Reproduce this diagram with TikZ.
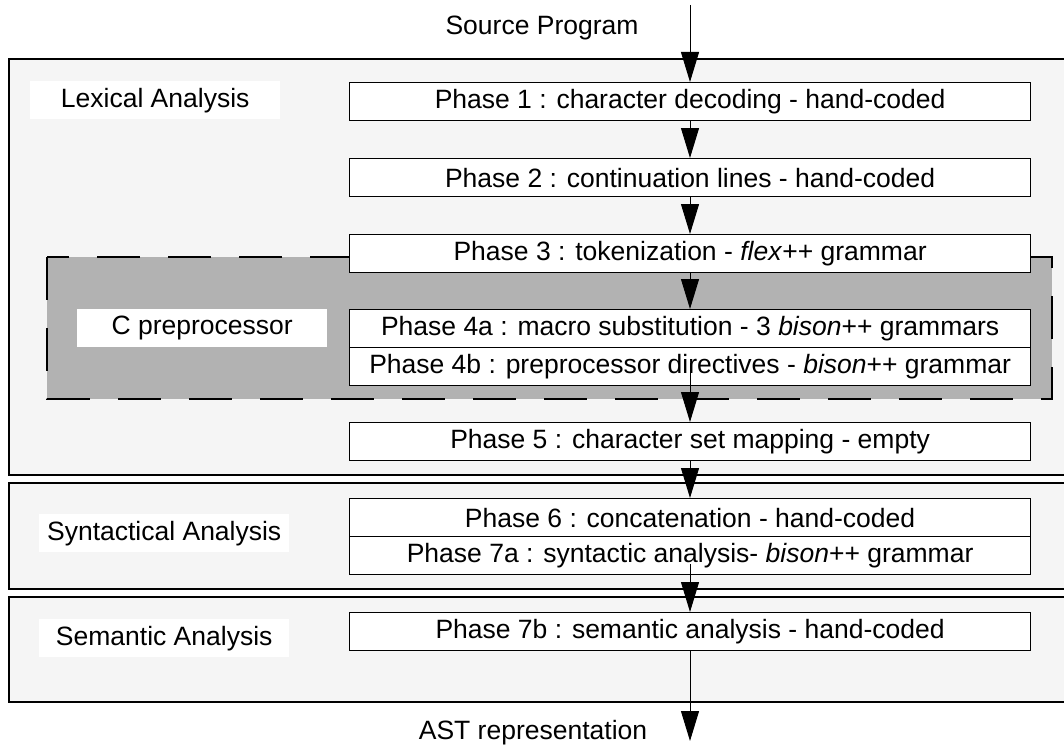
\documentclass[tikz,border=0pt]{standalone}
\usepackage{fontspec}
\setmainfont{Liberation Sans}
\usetikzlibrary{arrows.meta}
\begin{document}
\begin{tikzpicture}[x=1pt,y=-1pt,
  every node/.style={font=\fontsize{26.5}{30}\selectfont, inner sep=0pt},
  stage/.style={draw=black, line width=1.3pt, fill=black!4},
  phasebox/.style={draw=black, line width=1.2pt, fill=white, minimum width=681pt, minimum height=38pt, anchor=north west},
  labelbox/.style={fill=white, minimum width=250pt, minimum height=38pt, anchor=north west},
  arr/.style={line width=1pt, -{Triangle[length=30pt,width=18pt]}},
  cpp/.style={fill=black!30, draw=black, line width=1.3pt, dash pattern=on 43pt off 28pt}
]
\useasboundingbox (0,0) rectangle (1064,749);
% stage frames
\draw[stage] (1075,59) -- (9,59) -- (9,475) -- (1075,475);
\draw[stage] (1075,483) -- (9,483) -- (9,589) -- (1075,589);
\draw[stage] (1075,597) -- (9,597) -- (9,702) -- (1075,702);
% C preprocessor region
\draw[cpp] (47,257) rectangle (1052,399);
% stage labels
\node[labelbox] (lex) at (30,81) {Lexical Analysis};
\node[labelbox] (cpre) at (77,309) {C preprocessor};
\node[labelbox] (syn) at (39,514) {Syntactical Analysis};
\node[labelbox] (sem) at (39,619) {Semantic Analysis};
% phases
\node[phasebox] (p1) at (349,82) {Phase 1 : character decoding - hand-coded};
\node[phasebox] (p2) at (349,158) {Phase 2 : continuation lines - hand-coded};
\node[phasebox] (p3) at (349,234) {Phase 3 : tokenization - \textit{flex}++ grammar};
\node[phasebox] (p4a) at (349,309) {Phase 4a : macro substitution - 3 \textit{bison}++ grammars};
\node[phasebox] (p4b) at (349,347) {Phase 4b : preprocessor directives - \textit{bison}++ grammar};
\node[phasebox] (p5) at (349,422) {Phase 5 : character set mapping - empty};
\node[phasebox] (p6) at (349,498) {Phase 6 : concatenation - hand-coded};
\node[phasebox] (p7a) at (349,536) {Phase 7a : syntactic analysis- \textit{bison}++ grammar};
\node[phasebox] (p7b) at (349,612) {Phase 7b : semantic analysis - hand-coded};
% input / output
\node (src) at (542,28) {Source Program};
\node (ast) at (533,733) {AST representation};
\coordinate (srctop) at (690,5);
\coordinate (astend) at (690,741);
\coordinate (p4bin) at (690,363);
\coordinate (p7ain) at (690,564);
% flow
\draw[arr] (srctop) -- (p1.north -| srctop);
\draw[arr] (p1.south -| srctop) -- (p2.north -| srctop);
\draw[arr] (p2.south -| srctop) -- (p3.north -| srctop);
\draw[arr] (p3.south -| srctop) -- (p4a.north -| srctop);
\draw[arr] (p4bin) -- (p5.north -| srctop);
\draw[arr] (p5.south -| srctop) -- (p6.north -| srctop);
\draw[arr] (p7ain) -- (p7b.north -| srctop);
\draw[arr] (p7b.south -| srctop) -- (astend);
\end{tikzpicture}
\end{document}
